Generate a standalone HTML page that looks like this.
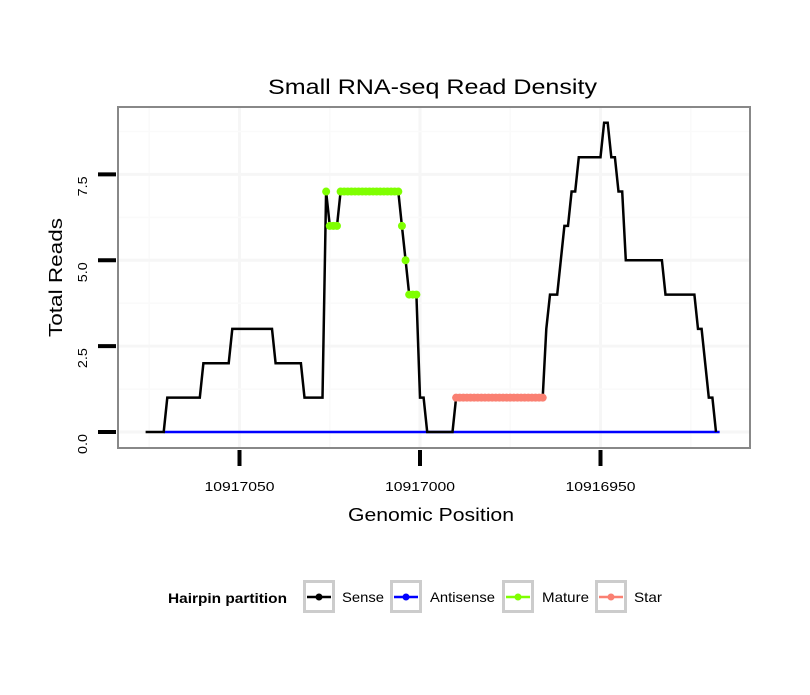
<!DOCTYPE html>
<html><head><meta charset="utf-8"><style>
body{margin:0;background:#fff;font-family:"Liberation Sans",sans-serif}
svg text{font-family:"Liberation Sans",sans-serif}
</style></head><body>
<svg id="chart" width="810" height="690" viewBox="0 0 810 690" xmlns="http://www.w3.org/2000/svg">
<rect width="810" height="690" fill="#fff"/>
<text x="268" y="94" font-size="21" textLength="329" lengthAdjust="spacingAndGlyphs">Small RNA-seq Read Density</text>
<g id="grid"></g>
<g id="series"></g>
<rect x="118" y="107" width="632" height="341" fill="none" stroke="#888" stroke-width="2"/>
<g id="axes"></g>
<text transform="translate(62,337) rotate(-90)" font-size="18" textLength="119" lengthAdjust="spacingAndGlyphs">Total Reads</text>
<text x="348" y="521" font-size="18" textLength="166" lengthAdjust="spacingAndGlyphs">Genomic Position</text>
<g>
<text x="168" y="603" font-size="14" font-weight="bold" textLength="119" lengthAdjust="spacingAndGlyphs">Hairpin partition</text>
<g id="legend-keys"></g>
</g>
</svg>
<script>
const senseStart = 10917076;
const senseValues = [0,0,0,0,0,0,1,1,1,1,1,1,1,1,1,1,2,2,2,2,2,2,2,2,3,3,3,3,3,3,3,3,3,3,3,3,2,2,2,2,2,2,2,2,1,1,1,1,1,1,7,6,6,6,7,7,7,7,7,7,7,7,7,7,7,7,7,7,7,7,7,6,5,4,4,4,1,1,0,0,0,0,0,0,0,0,1,1,1,1,1,1,1,1,1,1,1,1,1,1,1,1,1,1,1,1,1,1,1,1,1,3,4,4,4,5,6,6,7,7,8,8,8,8,8,8,8,9,9,8,8,7,7,5,5,5,5,5,5,5,5,5,5,5,4,4,4,4,4,4,4,4,4,3,3,2,1,1,0];
const matureStart = 10917026, matureEnd = 10917001;
const starStart = 10916990, starEnd = 10916966;
const antisenseStart = 10917071, antisenseEnd = 10916917;
const xTicks = [10917050, 10917000, 10916950];
const yTicks = [0, 2.5, 5, 7.5];
const yTickLabels = ["0.0","2.5","5.0","7.5"];
const legendLabels = ["Sense","Antisense","Mature","Star"];
const legendColors = ["#000","#0000ff","#7fff00","#fa8072"];

const NS="http://www.w3.org/2000/svg";
const X = p => 239.5 + (10917050 - p) * 3.61;
const Y = v => 432 - v * 34.35;
function mk(tag, attrs, parent){const e=document.createElementNS(NS,tag);for(const k in attrs)e.setAttribute(k,attrs[k]);parent.appendChild(e);return e;}
const grid=document.getElementById('grid'), series=document.getElementById('series'), axes=document.getElementById('axes');
[10917075,10917025,10916975,10916925].forEach(p=>{const l=mk('line',{x1:X(p),x2:X(p),y1:108,y2:447,stroke:'#fafafa','stroke-width':1.5},grid);});
xTicks.forEach(p=>{const l=mk('line',{x1:X(p),x2:X(p),y1:108,y2:447,stroke:'#f6f6f6','stroke-width':3},grid);});
[1.25,3.75,6.25,8.75].forEach(v=>{const l=mk('line',{x1:119,x2:749,y1:Y(v),y2:Y(v),stroke:'#fafafa','stroke-width':1.5},grid);});
yTicks.forEach(v=>{const l=mk('line',{x1:119,x2:749,y1:Y(v),y2:Y(v),stroke:'#f6f6f6','stroke-width':3},grid);});
const anti=mk('line',{x1:X(antisenseStart),x2:X(antisenseEnd),y1:Y(0),y2:Y(0),stroke:'#0000ff','stroke-width':2.5},series);


const pts=senseValues.map((v,i)=>X(senseStart-i).toFixed(1)+','+Y(v).toFixed(1)).join(' ');
const sl=mk('polyline',{points:pts,fill:'none',stroke:'#000','stroke-width':2.5},series);


function segPoints(a,b,color,name){
  for(let p=a;p>=b;p--){const v=senseValues[senseStart-p];
    const c=mk('circle',{cx:X(p),cy:Y(name==='star'?1:v),r:4,fill:color},series);
    
    }
}
segPoints(matureStart,matureEnd,'#7fff00','mature');
segPoints(starStart,starEnd,'#fa8072','star');
yTicks.forEach((v,i)=>{
  const t=mk('line',{x1:98,x2:116,y1:Y(v),y2:Y(v),stroke:'#000','stroke-width':4},axes);
  
  
  const tx=mk('text',{transform:`translate(87,${Y(v)+2}) rotate(-90)`,'font-size':13,'text-anchor':'end',textLength:20,lengthAdjust:'spacingAndGlyphs'},axes);
  tx.textContent=yTickLabels[i];
  
  
});
xTicks.forEach(p=>{
  const t=mk('line',{x1:X(p),x2:X(p),y1:450,y2:466,stroke:'#000','stroke-width':4},axes);
  
  
  const tx=mk('text',{x:X(p)-35,y:491,'font-size':13,textLength:70,lengthAdjust:'spacingAndGlyphs'},axes);
  tx.textContent=String(p);
  
  
});
const lk=document.getElementById('legend-keys');
const boxX=[303,390,502,595], txtX=[342,430,542,634], txtW=[42,65,47,28];
legendLabels.forEach((lab,i)=>{
  const g=mk('g',{},lk);
  
  
  mk('rect',{x:boxX[i]+1.5,y:581.5,width:29,height:30,fill:'#fff',stroke:'#ccc','stroke-width':3},g);
  mk('line',{x1:boxX[i]+4,x2:boxX[i]+28,y1:597,y2:597,stroke:legendColors[i],'stroke-width':2.5},g);
  mk('circle',{cx:boxX[i]+16,cy:597,r:3.5,fill:legendColors[i]},g);
  const t=mk('text',{x:txtX[i],y:602,'font-size':14,textLength:txtW[i],lengthAdjust:'spacingAndGlyphs'},g);
  t.textContent=lab;
});
</script>
</body></html>
